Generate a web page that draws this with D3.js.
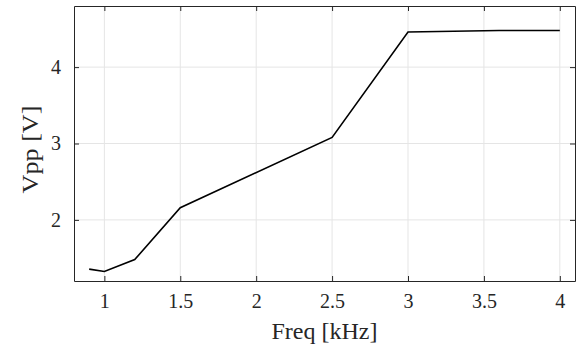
<!DOCTYPE html>
<meta charset="utf-8">
<script src="https://d3js.org/d3.v7.min.js"></script>
<style>
  body { margin: 0; background: #fff; }
</style>
<div id="chart"></div>
<script>

// data
var freq = [0.9, 1.0, 1.2, 1.5, 2.5, 3.0, 3.6, 4.0];
var vpp  = [1.355, 1.325, 1.48, 2.16, 3.08, 4.46, 4.48, 4.48];
var xTicks = [1, 1.5, 2, 2.5, 3, 3.5, 4];
var yTicks = [2, 3, 4];

var W = 579, H = 349;
var margin = {top: 6, right: 4, bottom: 68, left: 74},
    width = W - margin.left - margin.right,
    height = H - margin.top - margin.bottom;
var serif = "'Liberation Serif', 'Times New Roman', Times, serif";

var svg = d3.select("#chart").append("svg")
    .attr("width", W)
    .attr("height", H)
  .append("g")
    .attr("transform", "translate(" + margin.left + "," + margin.top + ")");

var x = d3.scaleLinear().domain([0.8, 4.1]).range([0, width]);
var y = d3.scaleLinear().domain([1.2, 4.8]).range([height, 0]);

// grid
svg.append("g").selectAll("line").data(xTicks).enter().append("line")
  .attr("x1", d => x(d)).attr("x2", d => x(d))
  .attr("y1", 0).attr("y2", height)
  .attr("stroke", "#e5e5e5").attr("stroke-width", 1);
svg.append("g").selectAll("line").data(yTicks).enter().append("line")
  .attr("x1", 0).attr("x2", width)
  .attr("y1", d => y(d)).attr("y2", d => y(d))
  .attr("stroke", "#e5e5e5").attr("stroke-width", 1);

// axes (ticks pointing inward, box all round)
var axCol = "#262626";
function styleAxis(g) {
  g.attr("font-family", null);
  g.select(".domain").attr("stroke", axCol);
  g.selectAll(".tick line").attr("stroke", axCol);
  g.selectAll(".tick text")
    .style("font-family", serif)
    .style("font-size", "20px")
    .attr("fill", axCol);
}
svg.append("g")
  .attr("transform", "translate(0," + height + ")")
  .call(d3.axisBottom(x).tickValues(xTicks).tickSizeInner(-5).tickSizeOuter(0).tickPadding(13).tickFormat(d3.format("")))
  .call(styleAxis);
svg.append("g")
  .call(d3.axisTop(x).tickValues(xTicks).tickSizeInner(-5).tickSizeOuter(0).tickFormat(""))
  .call(styleAxis);
svg.append("g")
  .call(d3.axisLeft(y).tickValues(yTicks).tickSizeInner(-5).tickSizeOuter(0).tickPadding(13).tickFormat(d3.format("")))
  .call(styleAxis);
svg.append("g")
  .attr("transform", "translate(" + width + ",0)")
  .call(d3.axisRight(y).tickValues(yTicks).tickSizeInner(-5).tickSizeOuter(0).tickFormat(""))
  .call(styleAxis);

// line
var pts = freq.map(function(f, i) { return [f, vpp[i]]; });
svg.append("path")
  .datum(pts)
  .attr("fill", "none")
  .attr("stroke", "#000")
  .attr("stroke-width", 1.6)
  .attr("d", d3.line().x(d => x(d[0])).y(d => y(d[1])));

// axis labels
svg.append("text")
  .attr("x", width / 2)
  .attr("y", height + 58)
  .attr("text-anchor", "middle")
  .attr("textLength", 106)
  .attr("lengthAdjust", "spacingAndGlyphs")
  .style("font-family", serif)
  .style("font-size", "24px")
  .attr("fill", axCol)
  .text("Freq [kHz]");

svg.append("text")
  .attr("transform", "rotate(-90)")
  .attr("x", -height / 2 - 6)
  .attr("y", -36)
  .attr("text-anchor", "middle")
  .attr("textLength", 88)
  .attr("lengthAdjust", "spacingAndGlyphs")
  .style("font-family", serif)
  .style("font-size", "24px")
  .attr("fill", axCol)
  .text("Vpp [V]");

</script>
